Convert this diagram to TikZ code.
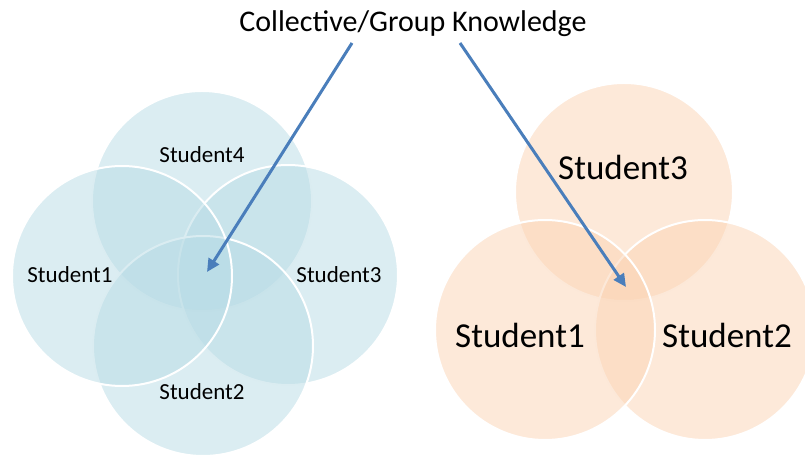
\documentclass[tikz,border=0pt]{standalone}
\usepackage{fontspec}
\setmainfont{Carlito}
\usetikzlibrary{arrows.meta, positioning}

\definecolor{venblue}{RGB}{183,219,229}
\definecolor{venorange}{RGB}{251,211,179}
\definecolor{arrowblue}{HTML}{4A7EBB}

\tikzset{
    bluering/.style={fill=venblue, fill opacity=0.5, draw=white, line width=2pt},
    orangering/.style={fill=venorange, fill opacity=0.5, draw=white, line width=2pt},
    smalllabel/.style={anchor=base, inner sep=0pt, font=\fontsize{23}{27}\selectfont},
    biglabel/.style={anchor=base, inner sep=0pt, font=\fontsize{35}{40}\selectfont},
    pointer/.style={draw=arrowblue, line width=3pt, -{Triangle[length=13pt, width=12pt]}}
}

\begin{document}
\begin{tikzpicture}[x=1pt, y=1pt]
\useasboundingbox (0,0) rectangle (805,457);

% Four students (order: 4, 3, 2, 1)
\foreach \cx/\cy in {202/256, 288/182, 203/111, 122/181}
{
    \filldraw[bluering] (\cx,\cy) circle (110);
}

% Labels of the four circles
\node[smalllabel] (lfour) at (202,294) {Student4};
\node[smalllabel] (lone) at (70,174) {Student1};
\node[smalllabel] (lthree) at (339,174) {Student3};
\node[smalllabel] (ltwo) at (202,57) {Student2};

% Three students (order: 3, 2, 1)
\filldraw[orangering] (624,265) circle (109);
\foreach \cx/\cy in {705/127, 545/127}
{
    \filldraw[orangering] (\cx,\cy) circle (110);
}

% Labels of the three circles
\node[biglabel] (rthree) at (623,277) {Student3};
\node[biglabel] (rone) at (520,109) {Student1};
\node[biglabel] (rtwo) at (727,109) {Student2};

% Heading
\node[anchor=base, inner sep=0pt, font=\fontsize{30}{36}\selectfont] (title) at (413,425) {Collective/Group Knowledge};

% Arrows into the common parts
\coordinate (leftstart) at (352,414);
\coordinate (leftcore) at (207,185);
\coordinate (rightstart) at (460,414);
\coordinate (rightcore) at (626,170);

\draw[pointer] (leftstart) -- (leftcore);
\draw[pointer] (rightstart) -- (rightcore);

\end{tikzpicture}
\end{document}
